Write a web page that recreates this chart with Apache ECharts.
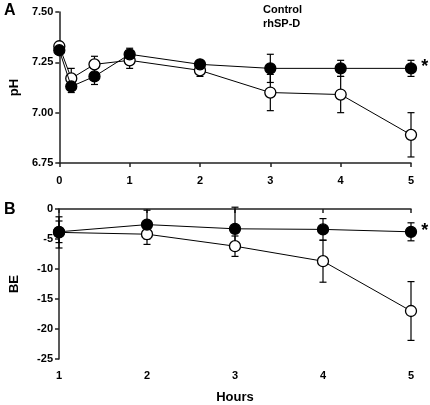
<!DOCTYPE html>
<html><head><meta charset="utf-8">
<script src="https://cdn.jsdelivr.net/npm/echarts@6/dist/echarts.min.js"></script>
<style>html,body{margin:0;padding:0;background:#fff}#c{width:430px;height:405px}</style>
</head><body><div id="c"></div>
<script>
// Panel A: pH
const hoursA = [0, 0.17, 0.5, 1, 2, 3, 4, 5];
const phControl = [7.33, 7.17, 7.24, 7.26, 7.21, 7.10, 7.09, 6.89];
const phControlErr = [0.02, 0.05, 0.04, 0.04, 0.03, 0.09, 0.09, 0.11];
const phRhspd = [7.31, 7.13, 7.18, 7.29, 7.24, 7.22, 7.22, 7.22];
const phRhspdErr = [0.02, 0.03, 0.04, 0.03, 0.02, 0.07, 0.04, 0.04];
const phTicks = [6.75, 7.00, 7.25, 7.50];
// Panel B: BE
const hoursB = [1, 2, 3, 4, 5];
const beControl = [-3.9, -4.2, -6.2, -8.7, -17.0];
const beControlErr = [2.6, 1.7, 1.7, 3.5, 4.9];
const beRhspd = [-3.8, -2.6, -3.3, -3.4, -3.8];
const beRhspdErr = [1.8, 2.4, 3.6, 1.8, 1.5];
const beTicks = [-25, -20, -15, -10, -5, 0];
const seriesNames = ['Control', 'rhSP-D'];

const FONT = '"Liberation Sans", Arial, sans-serif';
const chart = echarts.init(document.getElementById('c'), null, {renderer: 'canvas'});

function errData(xs, ys, es) {
  return xs.map((x, i) => [x, ys[i] - es[i], ys[i] + es[i]]);
}
function errSeries(xi, yi, data) {
  return {
    type: 'custom', xAxisIndex: xi, yAxisIndex: yi, z: 1, silent: true,
    data: data,
    renderItem: function (params, api) {
      const x = api.value(0);
      const lo = api.coord([x, api.value(1)]);
      const hi = api.coord([x, api.value(2)]);
      const w = 3.5;
      const st = {stroke: '#000', lineWidth: 1.2};
      return {type: 'group', children: [
        {type: 'line', shape: {x1: lo[0], y1: lo[1], x2: hi[0], y2: hi[1]}, style: st},
        {type: 'line', shape: {x1: lo[0]-w, y1: lo[1], x2: lo[0]+w, y2: lo[1]}, style: st},
        {type: 'line', shape: {x1: hi[0]-w, y1: hi[1], x2: hi[0]+w, y2: hi[1]}, style: st}
      ]};
    }
  };
}
function pairs(xs, ys) { return xs.map((x, i) => [x, ys[i]]); }
function starLast(arr) {
  return arr.map((p, i) => i === arr.length - 1 ? {value: p, label: {show: true, formatter: '*', position: 'right', distance: 4, offset: [0, -1], fontSize: 18, fontWeight: 'bold', color: '#000', fontFamily: FONT}} : p);
}
function lineSeries(name, xi, yi, data, filled) {
  return {
    name: name, type: 'line', xAxisIndex: xi, yAxisIndex: yi, z: filled ? 4 : 3,
    data: data, symbol: 'circle', symbolSize: 11,
    lineStyle: {color: '#000', width: 1},
    itemStyle: {color: filled ? '#000' : '#fff', borderColor: '#000', borderWidth: 1.3},
    emphasis: {disabled: true}, animation: false
  };
}
const axisLine = {show: true, lineStyle: {color: '#222', width: 1.5}};
const axisTick = {show: true, inside: false, length: 4, lineStyle: {color: '#222', width: 1.5}};
const axisLabel = {color: '#000', fontSize: 11, fontWeight: 'bold', fontFamily: FONT};

const option = {
  backgroundColor: '#fff',
  animation: false,
  grid: [
    {left: 56.5, top: 12, width: 354.5, height: 151},
    {left: 56.5, top: 209, width: 354.5, height: 155}
  ],
  xAxis: [
    {gridIndex: 0, type: 'value', min: 0, max: 5, interval: 1, axisLine: axisLine, axisTick: axisTick,
     axisLabel: Object.assign({margin: 12}, axisLabel), splitLine: {show: false}},
    {gridIndex: 1, type: 'value', min: 1, max: 5, interval: 1, axisLine: axisLine, axisTick: axisTick,
     axisLabel: Object.assign({margin: 11}, axisLabel), splitLine: {show: false},
     name: 'Hours', nameLocation: 'middle', nameGap: 32,
     nameTextStyle: {color: '#000', fontSize: 13, fontWeight: 'bold', fontFamily: FONT}}
  ],
  yAxis: [
    {gridIndex: 0, type: 'value', min: phTicks[0], max: phTicks[phTicks.length-1], interval: 0.25,
     axisLine: axisLine, axisTick: axisTick, splitLine: {show: false},
     axisLabel: Object.assign({margin: 6, formatter: v => v.toFixed(2)}, axisLabel),
     name: 'pH', nameLocation: 'middle', nameGap: 38,
     nameTextStyle: {color: '#000', fontSize: 13, fontWeight: 'bold', fontFamily: FONT}},
    {gridIndex: 1, type: 'value', min: beTicks[0], max: beTicks[beTicks.length-1], interval: 5,
     axisLine: axisLine, axisTick: axisTick, splitLine: {show: false},
     axisLabel: Object.assign({margin: 6}, axisLabel),
     name: 'BE', nameLocation: 'middle', nameGap: 38,
     nameTextStyle: {color: '#000', fontSize: 13, fontWeight: 'bold', fontFamily: FONT}}
  ],
  graphic: [
    {type: 'text', left: 4, top: 3, style: {text: 'A', fontSize: 16, fontWeight: 'bold', fill: '#000', fontFamily: FONT}},
    {type: 'text', left: 4, top: 202, style: {text: 'B', fontSize: 16, fontWeight: 'bold', fill: '#000', fontFamily: FONT}},
    {type: 'text', left: 263, top: 3, style: {text: seriesNames.join('\n'), fontSize: 11, lineHeight: 14, fontWeight: 'bold', fill: '#000', fontFamily: FONT}}
  ],
  series: [
    errSeries(0, 0, errData(hoursA, phControl, phControlErr)),
    errSeries(0, 0, errData(hoursA, phRhspd, phRhspdErr)),
    lineSeries(seriesNames[0], 0, 0, pairs(hoursA, phControl), false),
    lineSeries(seriesNames[1], 0, 0, starLast(pairs(hoursA, phRhspd)), true),
    errSeries(1, 1, errData(hoursB, beControl, beControlErr)),
    errSeries(1, 1, errData(hoursB, beRhspd, beRhspdErr)),
    lineSeries(seriesNames[0], 1, 1, pairs(hoursB, beControl), false),
    lineSeries(seriesNames[1], 1, 1, starLast(pairs(hoursB, beRhspd)), true)
  ]
};
chart.setOption(option);
</script></body></html>
